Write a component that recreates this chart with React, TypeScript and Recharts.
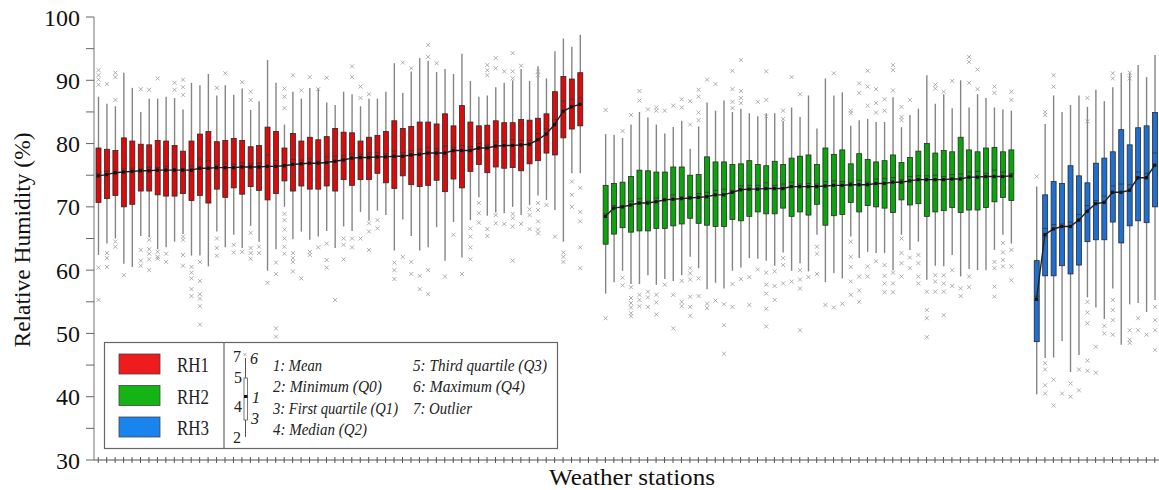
import React from "react";
import { ComposedChart, Bar, Line, XAxis, YAxis } from "recharts";

// RH1 stations (red)
const rh1Max = [87.4, 86.3, 85.9, 91.2, 88.8, 85.0, 87.1, 87.1, 87.4, 87.2, 85.4, 89.6, 89.2, 91.0, 87.6, 89.2, 87.7, 88.7, 85.3, 86.7, 93.2, 89.6, 83.0, 88.2, 87.1, 88.8, 88.7, 86.5, 86.1, 88.2, 87.8, 85.9, 87.1, 87.1, 88.2, 92.7, 88.0, 91.4, 93.5, 93.1, 91.3, 91.8, 91.0, 94.2, 89.9, 87.4, 87.6, 88.9, 89.6, 90.0, 91.8, 89.9, 92.2, 90.3, 94.6, 96.6, 95.3, 97.2];
const rh1Q3 = [79.3, 79.1, 78.9, 80.9, 80.4, 79.9, 79.8, 80.5, 80.4, 79.7, 78.8, 80.4, 81.5, 81.9, 80.3, 80.5, 80.8, 80.5, 79.5, 79.7, 82.6, 81.9, 79.3, 81.6, 80.4, 81.0, 80.6, 81.1, 82.4, 81.8, 81.7, 80.4, 81.0, 81.3, 81.9, 83.6, 82.4, 82.7, 83.4, 83.4, 83.1, 84.7, 82.8, 86.0, 83.4, 82.8, 82.9, 83.6, 83.3, 83.3, 83.8, 83.7, 84.0, 84.7, 88.2, 90.6, 90.2, 91.2];
const rh1Med = [75.3, 75.6, 75.2, 76.0, 76.1, 76.0, 76.3, 76.2, 76.4, 76.1, 76.0, 76.5, 77.6, 77.3, 76.6, 76.9, 76.7, 77.0, 76.8, 76.9, 78.2, 77.3, 76.7, 77.5, 77.4, 77.6, 77.2, 77.9, 78.0, 78.1, 78.4, 78.3, 78.5, 78.6, 78.4, 78.8, 78.6, 78.9, 79.1, 79.4, 79.2, 79.6, 79.4, 79.7, 79.5, 80.0, 79.8, 80.3, 80.4, 80.6, 80.5, 80.5, 81.6, 82.3, 83.8, 86.7, 87.0, 87.2];
const rh1Q1 = [70.7, 71.3, 71.8, 70.0, 70.4, 72.5, 72.5, 71.9, 71.7, 71.7, 72.1, 71.0, 71.8, 70.6, 72.8, 71.5, 73.0, 72.0, 73.2, 72.6, 71.1, 72.1, 74.1, 72.5, 73.3, 72.8, 72.8, 73.3, 72.5, 74.3, 73.4, 74.3, 74.3, 75.3, 73.8, 72.9, 74.9, 73.5, 73.2, 73.4, 74.2, 72.4, 74.4, 73.0, 75.6, 76.7, 75.4, 76.3, 76.1, 76.2, 75.7, 76.8, 77.3, 78.5, 78.2, 80.9, 82.3, 82.8];
const rh1Min = [62.4, 64.2, 65.0, 61.0, 60.5, 65.4, 65.2, 63.3, 63.6, 64.5, 65.7, 62.3, 62.3, 60.6, 66.1, 63.6, 65.6, 63.5, 67.0, 64.5, 59.9, 63.3, 70.0, 64.9, 66.1, 64.8, 65.3, 66.2, 63.5, 66.9, 66.2, 69.2, 67.8, 69.4, 68.7, 63.1, 68.0, 65.4, 63.1, 63.6, 66.8, 61.5, 67.6, 62.0, 67.9, 71.5, 68.6, 69.1, 69.0, 70.0, 68.7, 70.3, 71.8, 71.1, 69.5, 64.5, 75.3, 75.3];
const rh1Mean = [74.9, 75.1, 75.4, 75.5, 75.6, 75.7, 75.7, 75.8, 75.8, 75.8, 75.8, 75.8, 76.1, 76.1, 76.2, 76.2, 76.2, 76.3, 76.3, 76.3, 76.4, 76.4, 76.5, 76.7, 76.8, 76.9, 76.9, 77.0, 77.2, 77.4, 77.7, 77.8, 77.8, 77.9, 77.9, 78.0, 78.0, 78.2, 78.3, 78.5, 78.5, 78.5, 78.9, 78.9, 78.9, 79.3, 79.3, 79.6, 79.7, 79.7, 79.8, 79.9, 80.6, 81.5, 83.0, 85.1, 85.8, 86.2];
const rh1Out = [
  [91.6, 90.8, 90.1, 89.3, 60.4, 55.3], [89.4, 62.7, 61.9, 60.5], [91.2, 90.5, 86.9, 64.5, 63.7], [59.2], [],
  [88.6, 63.2, 61.5, 60.7], [88.5, 64.8, 63.3, 62.6, 61.7, 60.0], [90.3, 62.9, 62.1, 61.8], [62.6, 61.3], [89.6, 88.5],
  [90.1, 88.9, 87.7, 65.3, 64.8, 62.4, 60.7], [60.5, 59.6, 58.7, 57.0, 55.9], [61.3, 58.3, 56.2, 55.5, 54.3, 51.4], [], [88.8, 65.0, 63.5, 62.3],
  [91.1], [64.0, 62.8], [89.7, 62.9], [88.2, 86.9, 65.9, 63.5, 62.7, 61.8], [63.7, 62.7],
  [58.0], [61.2, 59.4, 50.8, 49.5], [88.7, 87.4, 85.6, 68.9, 67.9, 66.4, 65.0, 63.7, 62.6], [90.8, 62.7, 61.9, 61.3, 59.8], [88.4, 58.7],
  [90.5, 62.9, 62.4], [88.6, 63.6], [90.4, 64.2, 61.6, 60.4], [55.3], [65.0, 64.0, 61.7],
  [92.2, 90.5, 65.0, 63.6], [89.0, 87.2, 65.0], [87.8, 67.4, 66.1, 63.2], [67.9, 66.6], [],
  [61.2, 60.0, 58.6], [92.8, 62.1], [91.9, 61.3, 59.4], [59.1, 57.0], [95.6, 93.7, 60.0, 56.2],
  [92.7], [59.0], [65.6], [59.4], [66.6, 65.3, 63.6, 61.7],
  [70.6, 69.0, 67.5], [92.4, 91.6, 90.8, 66.5, 65.4], [93.5, 91.9, 68.7, 67.4], [91.4, 67.3], [94.3, 91.4, 90.3, 68.9, 68.2, 66.9, 61.5],
  [92.3, 67.3], [69.6, 68.7, 66.5], [91.4, 90.8, 70.6, 69.5, 67.7, 66.4, 65.8], [70.3], [65.3],
  [62.8, 62.1, 61.3], [74.0, 71.9, 70.0], [73.0, 69.2, 67.7, 63.6, 60.3],
];

// RH2 stations (green)
const rh2Max = [81.5, 81.4, 80.9, 83.0, 85.0, 84.1, 83.0, 81.6, 82.6, 83.6, 79.2, 82.7, 86.5, 85.2, 86.8, 85.0, 85.5, 84.8, 84.3, 84.8, 84.8, 83.6, 85.7, 84.2, 87.6, 82.4, 90.3, 87.6, 88.1, 82.8, 83.7, 83.9, 83.4, 83.4, 87.3, 82.6, 84.5, 85.5, 90.8, 86.3, 87.8, 85.6, 90.0, 85.7, 87.8, 87.2, 85.7, 85.4, 85.2];
const rh2Q3 = [73.4, 73.7, 73.9, 74.8, 75.8, 75.7, 75.5, 75.5, 76.3, 76.3, 75.0, 75.1, 77.9, 77.1, 77.1, 76.7, 76.8, 77.3, 76.7, 76.5, 77.2, 76.7, 77.7, 78.0, 78.2, 76.7, 79.3, 78.3, 79.0, 76.8, 78.4, 77.5, 77.1, 77.3, 78.2, 77.0, 77.8, 78.8, 80.0, 78.5, 78.9, 78.7, 81.0, 79.0, 78.7, 79.3, 79.4, 78.7, 79.0];
const rh2Med = [68.9, 70.2, 70.1, 70.9, 71.3, 70.9, 71.4, 71.2, 71.9, 71.6, 71.6, 72.1, 72.3, 72.6, 72.8, 72.6, 73.3, 73.4, 73.4, 73.8, 73.4, 73.6, 73.9, 73.6, 73.7, 73.6, 74.0, 74.1, 74.0, 73.9, 74.2, 73.9, 74.4, 74.5, 74.6, 74.3, 74.8, 74.9, 74.9, 75.0, 74.8, 75.1, 75.2, 75.5, 75.6, 75.3, 75.8, 75.5, 75.3];
const rh2Q1 = [64.1, 65.7, 66.7, 66.0, 66.2, 66.2, 66.6, 66.6, 67.0, 67.3, 68.2, 67.4, 67.1, 66.9, 66.9, 68.0, 67.8, 68.5, 69.2, 68.9, 68.9, 69.8, 68.5, 69.2, 68.7, 70.4, 67.1, 68.6, 68.8, 70.7, 69.2, 70.2, 70.0, 69.8, 69.1, 71.1, 70.3, 70.5, 68.5, 69.2, 69.4, 69.9, 69.1, 69.5, 69.5, 69.9, 70.8, 71.5, 71.0];
const rh2Min = [56.3, 58.1, 59.9, 57.8, 57.8, 59.2, 57.7, 58.6, 58.3, 59.2, 62.1, 60.3, 57.0, 58.0, 57.1, 59.9, 60.4, 61.9, 61.8, 61.5, 60.7, 62.8, 59.9, 61.1, 59.8, 65.6, 58.1, 59.5, 58.7, 65.3, 61.9, 62.9, 62.7, 62.7, 60.0, 65.6, 63.2, 64.5, 58.5, 60.7, 60.6, 62.4, 59.0, 60.2, 60.0, 60.0, 63.2, 65.6, 64.2];
const rh2Mean = [68.5, 69.8, 70.0, 70.3, 70.6, 70.6, 70.8, 71.1, 71.2, 71.3, 71.4, 71.5, 71.6, 71.9, 71.9, 72.3, 72.7, 72.8, 72.8, 72.9, 72.9, 72.9, 73.2, 73.2, 73.2, 73.2, 73.3, 73.4, 73.4, 73.5, 73.5, 73.5, 73.7, 73.7, 73.9, 73.9, 74.1, 74.3, 74.3, 74.3, 74.3, 74.4, 74.4, 74.7, 74.7, 74.8, 74.8, 74.8, 74.9];
const rh2Out = [
  [85.3, 52.4], [], [82.0, 58.8, 57.6], [84.5, 57.3, 55.6, 54.8, 54.1, 53.2, 52.7], [88.3, 86.8, 56.1, 55.3, 54.3],
  [85.4, 56.6, 55.7, 54.2], [85.7, 85.2, 56.1, 54.9, 53.0], [85.2, 57.7], [86.0, 56.1, 50.8], [87.0, 85.7, 58.3, 55.0, 54.3],
  [86.7, 83.0, 60.3, 59.5, 58.5, 55.8, 54.2, 52.8], [88.5, 87.4, 84.9, 83.7, 58.7, 55.9], [90.1, 54.7, 54.0], [89.4, 55.2], [54.6, 51.3, 46.8],
  [91.5, 88.6, 86.6, 85.6, 57.8, 54.2], [93.2, 88.3, 87.2, 86.4, 58.6], [58.9, 54.5], [86.6, 60.1], [91.4, 86.9, 84.3, 59.6, 57.7, 56.3, 53.9, 51.1],
  [59.8, 57.5, 55.3], [85.2, 83.9, 61.9, 60.8, 57.9], [90.5, 58.2], [87.8, 60.0, 58.5, 57.1, 50.5], [58.9],
  [63.7, 62.6, 59.4], [54.5], [91.1, 54.1], [54.7], [85.2, 84.8, 64.5, 62.1, 60.5, 58.2, 56.1],
  [89.5, 88.0, 59.0, 56.8, 55.0], [91.5, 89.0, 86.0, 60.6, 59.0], [88.6, 86.4, 84.9, 61.4], [87.0, 85.2, 60.8, 59.1, 57.9, 56.5], [92.4, 91.6, 88.4, 59.6, 57.9, 56.5],
  [85.8, 84.2, 83.7, 65.0, 62.7, 61.1, 59.0], [86.9, 62.0, 60.3], [62.4, 61.1, 59.0, 57.9], [56.6, 53.7, 52.4, 49.4], [89.3, 88.7, 59.2, 58.2, 56.6],
  [88.2, 59.2, 57.9, 56.6, 52.9], [89.9, 60.0, 57.5], [57.1, 55.9], [93.7, 92.9, 89.6, 59.0, 57.3], [91.7, 88.6],
  [], [89.0, 88.0, 61.3, 60.3, 57.4, 55.8], [64.3, 62.8, 61.6, 60.6], [88.2, 86.9, 63.2, 60.6, 58.4],
];

// RH3 stations (blue)
const rh3Max = [73.2, 83.1, 87.6, 85.0, 86.1, 87.6, 85.8, 88.5, 86.7, 88.9, 91.2, 91.1, 92.4, 90.5, 94.0];
const rh3Q3 = [61.5, 71.9, 74.0, 73.7, 76.5, 74.9, 73.8, 76.9, 77.7, 78.7, 82.2, 79.8, 82.5, 82.8, 84.9];
const rh3Med = [55.9, 66.6, 67.2, 67.3, 67.6, 68.8, 70.2, 71.0, 71.7, 73.3, 73.6, 73.5, 75.5, 75.3, 78.5];
const rh3Q1 = [48.7, 59.1, 59.1, 60.7, 59.4, 60.8, 64.5, 64.8, 64.8, 67.6, 64.3, 67.0, 67.8, 67.5, 70.0];
const rh3Min = [40.4, 46.1, 46.2, 48.8, 43.9, 46.6, 55.7, 54.1, 52.3, 57.1, 48.2, 54.6, 54.8, 53.4, 55.3];
const rh3Mean = [55.4, 65.6, 66.5, 66.9, 66.9, 67.9, 69.3, 70.5, 70.7, 72.3, 72.3, 72.6, 74.6, 74.6, 76.6];
const rh3Out = [
  [74.8], [85.0, 84.5, 45.3, 44.3, 41.8, 40.5], [90.8, 89.0, 42.7, 38.6], [40.5], [42.1, 40.0],
  [44.3, 41.0], [87.2, 83.5, 55.0, 53.3, 51.6, 45.7, 44.1], [47.9, 43.8], [51.2, 50.0], [91.1, 90.3, 55.3, 53.7, 52.1, 49.8],
  [], [91.2, 90.3, 50.5, 49.0, 48.5], [52.4, 50.5], [49.8], [54.2, 52.1, 50.5, 47.4],
];

const yTicks = [30, 35, 40, 45, 50, 55, 60, 65, 70, 75, 80, 85, 90, 95, 100];
const legendItems = [
  "1: Mean",
  "2: Minimum (Q0)",
  "3: First quartile (Q1)",
  "4: Median (Q2)",
  "5: Third quartile (Q3)",
  "6: Maximum (Q4)",
  "7: Outlier",
];
// measured text widths in the figure (px), so the legend keeps its layout whatever serif is found
const legendWidths = [49, 109, 125, 94, 134, 112, 59];

const SERIF = "Liberation Serif, Tinos, Times New Roman, Times, Noto Serif, DejaVu Serif, serif";
const GAP = 2;

const groups = [
  { name: "RH1", key: "meanR", fill: "#dc0a0a", swatch: "#ee1c1c", max: rh1Max, q3: rh1Q3, med: rh1Med, q1: rh1Q1, min: rh1Min, mean: rh1Mean, out: rh1Out },
  { name: "RH2", key: "meanG", fill: "#0aa50a", swatch: "#14b414", max: rh2Max, q3: rh2Q3, med: rh2Med, q1: rh2Q1, min: rh2Min, mean: rh2Mean, out: rh2Out },
  { name: "RH3", key: "meanB", fill: "#1f6fd1", swatch: "#1a84ee", max: rh3Max, q3: rh3Q3, med: rh3Med, q1: rh3Q1, min: rh3Min, mean: rh3Mean, out: rh3Out },
];

const rows: any[] = [];
let station = 0;
groups.forEach((g, gi) => {
  if (gi > 0) {
    for (let k = 0; k < GAP; k++) rows.push({ station: ++station, range: null });
  }
  g.max.forEach((_, i) => {
    rows.push({
      station: ++station,
      range: [g.min[i], g.max[i]],
      q1: g.q1[i],
      q3: g.q3[i],
      med: g.med[i],
      out: g.out[i] || [],
      fill: g.fill,
      [g.key]: g.mean[i],
    });
  });
});

const BoxShape = (props: any) => {
  const { x, y, width, height, payload } = props;
  if (!payload || !payload.range || !isFinite(y) || !isFinite(height) || height === 0) return <g />;
  const [lo, hi] = payload.range;
  const top = Math.min(y, y + height);
  const bottom = Math.max(y, y + height);
  const py = (v: number) => bottom - ((v - lo) / (hi - lo)) * (bottom - top);
  const cx = x + width / 2;
  const bTop = py(payload.q3);
  const bBot = py(payload.q1);
  const m = py(payload.med);
  return (
    <g>
      <line x1={cx} x2={cx} y1={py(hi)} y2={py(lo)} stroke="#858585" strokeWidth={1.4} />
      {payload.out.map((v: number, i: number) => {
        const oy = py(v);
        return (
          <path
            key={i}
            d={`M${cx - 2},${oy - 2}L${cx + 2},${oy + 2}M${cx - 2},${oy + 2}L${cx + 2},${oy - 2}`}
            stroke="#9a9a9a"
            strokeWidth={0.8}
            fill="none"
          />
        );
      })}
      <rect x={x} y={bTop} width={width} height={bBot - bTop} fill={payload.fill} stroke="#2a2a2a" strokeWidth={0.8} />
      <line x1={x} x2={x + width} y1={m} y2={m} stroke="#333" strokeWidth={0.8} />
    </g>
  );
};

const MeanDot = (props: any) => {
  const { cx, cy, value, index } = props;
  if (value == null || cy == null || !isFinite(cy)) return <g key={index} />;
  return <rect key={index} x={cx - 1.6} y={cy - 1.6} width={3.2} height={3.2} fill="#111" />;
};

const XTick = (props: any) => {
  const { x, y } = props;
  return <line x1={x} x2={x} y1={y - 3} y2={y + 3} stroke="#555" strokeWidth={1} />;
};

function Overlay() {
  const num = { fontFamily: SERIF, fontSize: 16, fill: "#222" } as const;
  const item = { fontFamily: SERIF, fontSize: 16.5, fontStyle: "italic", fill: "#222" } as const;
  return (
    <svg width={1159} height={490} style={{ position: "absolute", left: 0, top: 0, pointerEvents: "none" }}>
      <text
        x={22}
        y={240}
        transform="rotate(-90 22 240)"
        textAnchor="middle"
        dominantBaseline="central"
        textLength={215}
        lengthAdjust="spacingAndGlyphs"
        style={{ fontFamily: SERIF, fontSize: 23, fill: "#111" }}
      >
        Relative Humidity (%)
      </text>
      <text
        x={632}
        y={485}
        textAnchor="middle"
        textLength={166}
        lengthAdjust="spacingAndGlyphs"
        style={{ fontFamily: SERIF, fontSize: 23, fill: "#111" }}
      >
        Weather stations
      </text>
      <g transform="translate(104 342)">
        <rect x={0.5} y={0.5} width={453} height={106} fill="#fff" stroke="#666" strokeWidth={1.2} />
        <line x1={120} x2={120} y1={0.5} y2={106.5} stroke="#666" strokeWidth={1.2} />
        {groups.map((g, i) => (
          <g key={g.name}>
            <rect x={15} y={12 + i * 31.5} width={41} height={20} fill={g.swatch} stroke="#444" strokeWidth={0.8} />
            <text
              x={73}
              y={30 + i * 31.5}
              textLength={32}
              lengthAdjust="spacingAndGlyphs"
              style={{ fontFamily: SERIF, fontSize: 20, fill: "#222" }}
            >
              {g.name}
            </text>
          </g>
        ))}
        <line x1={141.5} x2={141.5} y1={16} y2={95} stroke="#555" strokeWidth={1} />
        <rect x={140} y={36} width={3.5} height={42} fill="#fff" stroke="#555" strokeWidth={0.8} />
        <rect x={140} y={53} width={3.5} height={3} fill="#111" />
        <path d="M139.5,11L142.5,14M139.5,14L142.5,11" stroke="#999" strokeWidth={0.8} />
        <text x={129} y={20} style={num}>7</text>
        <text x={146} y={22} style={{ ...num, fontStyle: "italic" }}>6</text>
        <text x={130} y={41} style={num}>5</text>
        <text x={148} y={61} style={{ ...num, fontStyle: "italic" }}>1</text>
        <text x={130} y={70} style={num}>4</text>
        <text x={147} y={82} style={{ ...num, fontStyle: "italic" }}>3</text>
        <text x={129} y={101} style={num}>2</text>
        {legendItems.map((t, i) => (
          <text
            key={t}
            x={i < 4 ? 169 : 309}
            y={29 + (i % 4) * 21.3}
            textLength={legendWidths[i]}
            lengthAdjust="spacingAndGlyphs"
            style={item}
          >
            {t}
          </text>
        ))}
      </g>
    </svg>
  );
}

export default function App() {
  return (
    <div style={{ position: "absolute", left: 0, top: 0, width: 1159, height: 490, background: "#fff", overflow: "hidden" }}>
      <ComposedChart width={1159} height={490} data={rows} margin={{ top: 17, right: 0, bottom: 0, left: 0 }}>
        <XAxis
          dataKey="station"
          type="category"
          interval={0}
          height={30}
          tickLine={false}
          tickSize={0}
          tickMargin={0}
          tick={<XTick />}
          axisLine={{ stroke: "#555", strokeWidth: 1 }}
        />
        <YAxis
          type="number"
          domain={[30, 100]}
          ticks={yTicks}
          allowDataOverflow
          width={94}
          tickSize={8}
          tickMargin={6}
          tickLine={{ stroke: "#666" }}
          axisLine={{ stroke: "#777", strokeWidth: 1 }}
          tickFormatter={(v: number) => (v % 10 === 0 ? String(v) : "")}
          tick={{ fontFamily: SERIF, fontSize: 24, fill: "#111" }}
        />
        <Bar dataKey="range" barSize={5} isAnimationActive={false} shape={<BoxShape />} />
        {groups.map((g) => (
          <Line
            key={g.key}
            dataKey={g.key}
            stroke="#222"
            strokeWidth={1.4}
            dot={<MeanDot />}
            activeDot={false}
            connectNulls={false}
            isAnimationActive={false}
          />
        ))}
      </ComposedChart>
      <Overlay />
    </div>
  );
}
